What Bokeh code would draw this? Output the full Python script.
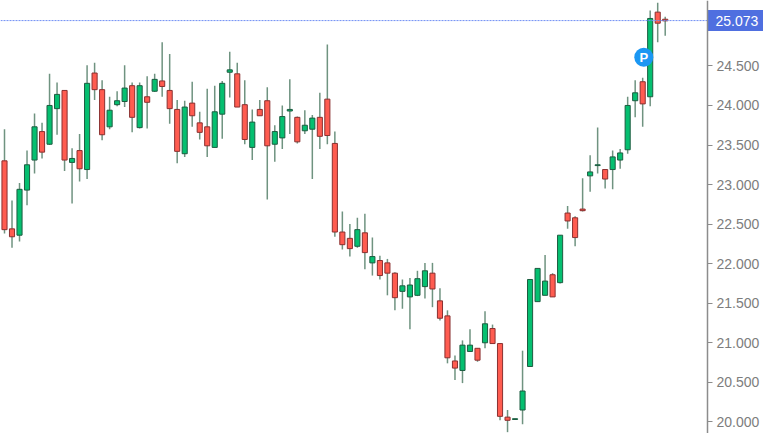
from bokeh.plotting import figure
from bokeh.models import Range1d, FixedTicker, NumeralTickFormatter, ColumnDataSource, LinearAxis
from bokeh.core.properties import value
from bokeh.embed import file_html
from bokeh.resources import INLINE

highs = [23.70,22.80,23.02,23.43,23.90,23.78,24.40,24.29,24.19,23.46,
         23.64,24.51,24.54,24.32,24.11,24.18,24.51,24.29,24.29,24.37,
         24.40,24.80,24.65,24.07,24.06,24.30,23.92,24.21,24.25,24.31,
         24.68,24.54,24.32,23.95,24.07,24.23,23.75,24.00,24.33,23.86,
         23.94,23.88,24.16,24.77,23.67,22.66,22.50,22.58,22.63,22.33,
         22.10,22.06,21.89,21.80,21.82,21.91,22.01,22.01,21.69,21.41,
         20.84,21.03,21.17,20.93,21.40,21.23,20.99,20.15,20.04,20.90,
         21.80,21.94,22.11,21.88,22.36,22.73,22.60,23.08,23.37,23.72,
         23.19,23.43,23.45,24.11,24.32,24.35,25.20,25.30,25.12]
opens = [23.30,22.44,22.36,22.93,23.31,23.67,23.51,23.96,24.19,23.28,
         23.43,23.19,24.41,24.20,23.73,24.01,24.05,24.25,23.72,24.11,
         24.18,24.31,24.19,23.95,23.39,24.03,23.78,23.73,23.47,23.89,
         24.42,24.40,24.01,23.47,23.95,24.06,23.51,23.59,23.93,23.85,
         23.68,23.70,23.85,24.08,23.52,22.40,22.32,22.22,22.39,22.01,
         22.04,22.01,21.88,21.65,21.58,21.60,21.71,21.88,21.53,21.34,
         20.77,20.65,20.89,20.93,21.00,21.18,20.99,20.06,20.03,20.15,
         20.70,21.52,21.60,21.86,21.76,22.64,22.58,22.69,23.11,23.24,
         23.19,23.19,23.31,23.44,24.06,24.30,24.11,25.18,25.09]
closes = [22.43,22.34,22.94,23.25,23.73,23.41,24.00,24.14,23.31,23.33,
          23.20,24.28,24.20,23.63,23.94,24.06,24.22,23.85,24.25,24.04,
          24.33,24.24,23.96,23.42,23.98,23.87,23.66,23.49,23.92,24.28,
          24.45,23.98,23.57,23.79,23.87,23.49,23.67,23.86,23.95,23.54,
          23.75,23.84,23.61,23.62,22.40,22.24,22.19,22.43,22.14,22.09,
          21.85,21.88,21.57,21.72,21.73,21.81,21.91,21.68,21.31,20.81,
          20.68,20.97,20.97,20.78,21.24,20.99,20.07,20.02,20.04,20.39,
          21.80,21.94,21.78,21.58,22.36,22.54,22.33,22.67,23.16,23.25,
          23.07,23.35,23.40,24.00,24.16,24.02,25.10,25.04,25.07]
lows = [22.38,22.20,22.28,22.74,23.14,23.33,23.50,23.63,23.17,22.76,
        23.04,23.07,24.07,23.56,23.70,23.99,23.98,23.66,23.71,23.71,
        24.17,24.11,23.77,23.27,23.35,23.73,23.57,23.35,23.47,23.58,
        24.10,23.98,23.51,23.31,23.87,22.81,23.29,23.45,23.64,23.52,
        23.64,23.07,23.45,23.51,22.34,22.18,22.09,22.20,21.93,21.85,
        21.80,21.60,21.41,21.43,21.17,21.59,21.56,21.45,21.28,20.74,
        20.53,20.49,20.89,20.76,20.93,20.99,20.02,19.87,20.03,19.97,
        20.70,21.52,21.60,21.58,21.75,22.44,22.22,22.66,22.91,23.14,
        22.95,22.94,23.20,23.39,23.85,23.73,23.99,24.80,24.88]
tick_values = [20.0, 20.5, 21.0, 21.5, 22.0, 22.5, 23.0, 23.5, 24.0, 24.5]
last_price = 25.073
last_label = "25.073"
badge_text = "P"
badge_x = 85.15
badge_y = 24.61

px = 7.508                      # width of one candle slot in pixels
x_start = -0.533
axis_x = x_start + 707 / px     # the price axis stands here
x_end = x_start + 763 / px
y_start, y_end = 19.853, 25.327

GREEN, GREEN_EDGE = "#05bf70", "#1d5c40"
RED, RED_EDGE = "#ff5c50", "#8a3030"
WICK = "#6f9380"

idx = list(range(len(opens)))
up = [c >= o for o, c in zip(opens, closes)]
source = ColumnDataSource(dict(
    x=idx, high=highs, low=lows,
    top=[max(o, c) for o, c in zip(opens, closes)],
    bottom=[min(o, c) for o, c in zip(opens, closes)],
    fill=[GREEN if u else RED for u in up],
    edge=[GREEN_EDGE if u else RED_EDGE for u in up],
))

p = figure(frame_width=763, frame_height=433, output_backend="svg", toolbar_location=None,
           x_range=Range1d(x_start, x_end), y_range=Range1d(y_start, y_end),
           y_axis_location=None, x_axis_location=None,
           min_border=0, outline_line_color=None,
           background_fill_color="white", border_fill_color="white")
p.styles = {"position": "absolute", "left": "0px", "top": "0px"}
p.grid.visible = False

ax = LinearAxis(fixed_location=axis_x)
ax.ticker = FixedTicker(ticks=tick_values)
ax.formatter = NumeralTickFormatter(format="0.000")
ax.axis_line_color = "#8c8c8c"
ax.axis_line_width = 1.5
ax.major_tick_line_color = "#8c8c8c"
ax.major_tick_line_width = 1
ax.major_tick_in = 0
ax.major_tick_out = 5
ax.minor_tick_line_color = None
ax.major_label_standoff = 4
ax.major_label_text_color = "#7d7d7d"
ax.major_label_text_font = "Liberation Sans"
ax.major_label_text_font_size = "14px"
p.add_layout(ax, "right")

p.segment("x", "high", "x", "low", source=source, line_color=WICK, line_width=1.5)
p.vbar("x", width=0.68, top="top", bottom="bottom", source=source,
       fill_color="fill", line_color="edge", line_width=1)

p.line([x_start, axis_x], [last_price, last_price], line_color="#6f8ff5",
       line_width=1, line_dash="2 1")

p.scatter([badge_x], [badge_y], size=19, marker="circle", fill_color="#1b97f3", line_color=None)
p.text([badge_x], [badge_y], text=[badge_text], text_color="white", text_align="center",
       text_baseline="middle", text_font=value("Liberation Sans"), text_font_style="bold",
       text_font_size="13px")

p.rect([axis_x + 28 / px], [last_price], width=56, height=21,
       width_units="screen", height_units="screen",
       fill_color="#4f6fe0", line_color=None)
p.text([axis_x + 8 / px], [last_price], text=[last_label], text_color="white",
       text_align="left", text_baseline="middle", text_font=value("Liberation Sans"),
       text_font_size="14px")

open("out.html", "w").write(file_html(p, INLINE))
